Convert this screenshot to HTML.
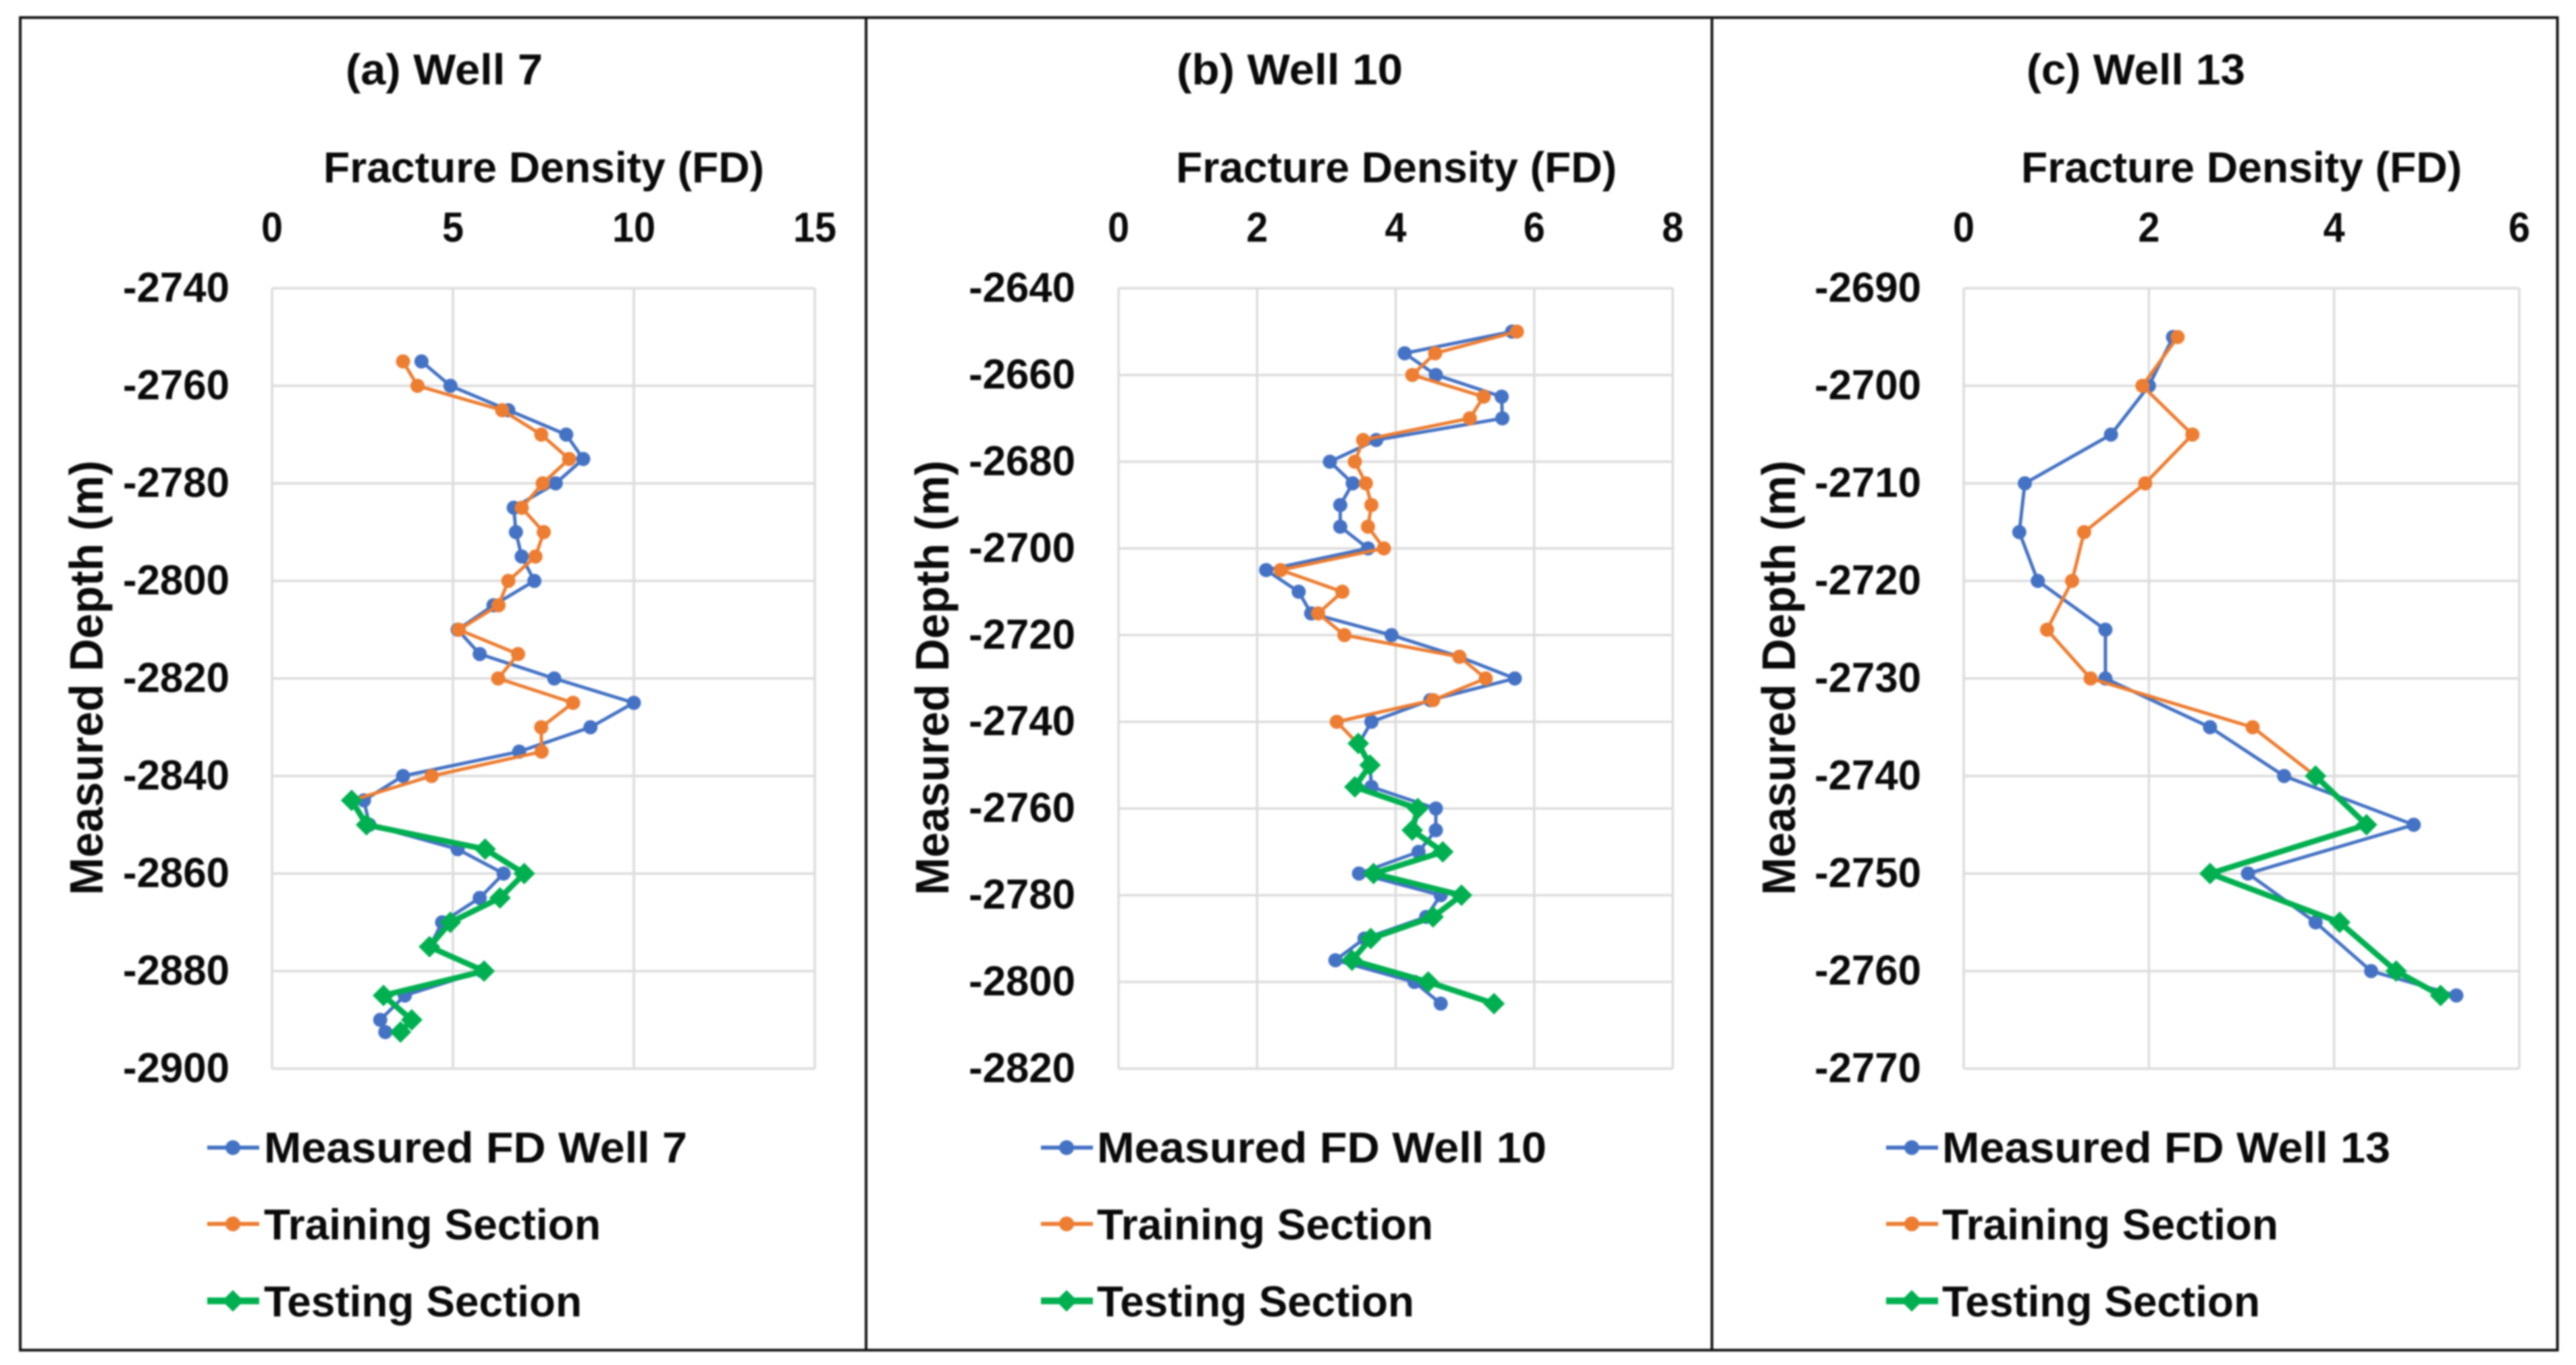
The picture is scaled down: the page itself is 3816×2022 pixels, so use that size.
<!DOCTYPE html>
<html lang="en">
<head>
<meta charset="utf-8">
<title>Fracture Density by Well</title>
<style>
html,body{margin:0;padding:0;background:#fff;width:3816px;height:2022px;overflow:hidden}
svg{display:block;position:absolute;left:0;top:0}
text{font-family:"Liberation Sans",sans-serif;font-weight:700;fill:#0a0a0a}
#art{filter:blur(1.2px)}
</style>
</head>
<body>
<svg id="chart" xmlns="http://www.w3.org/2000/svg" width="3816" height="2022" viewBox="0 0 3816 2022">
<rect width="3816" height="2022" fill="#ffffff"></rect>
<g id="art"></g>
</svg>
<script>
// ---------- Well 7 data ----------
const well7XTicks = [0, 5, 10, 15];
const well7YTicks = [-2740, -2760, -2780, -2800, -2820, -2840, -2860, -2880, -2900];
const well7MeasuredDepth = [-2755, -2760, -2765, -2770, -2775, -2780, -2785, -2790, -2795, -2800, -2805, -2810, -2815, -2820, -2825, -2830, -2835, -2840, -2845, -2850, -2855, -2860, -2865, -2870, -2875, -2880, -2885, -2890, -2892.5];
const well7Measured = [4.13, 4.93, 6.53, 8.13, 8.6, 7.84, 6.68, 6.74, 6.9, 7.25, 6.12, 5.13, 5.74, 7.8, 10.0, 8.8, 6.83, 3.62, 2.54, 2.69, 5.13, 6.4, 5.74, 4.7, 4.36, 5.8, 3.67, 2.99, 3.13];
const well7TrainingDepth = [-2755, -2760, -2765, -2770, -2775, -2780, -2785, -2790, -2795, -2800, -2805, -2810, -2815, -2820, -2825, -2830, -2835, -2840, -2845];
const well7Training = [3.62, 4.02, 6.36, 7.44, 8.21, 7.48, 6.9, 7.51, 7.28, 6.53, 6.26, 5.16, 6.8, 6.25, 8.32, 7.44, 7.45, 4.41, 2.2];
const well7TestingDepth = [-2845, -2850, -2855, -2860, -2865, -2870, -2875, -2880, -2885, -2890, -2892.5];
const well7Testing = [2.2, 2.61, 5.89, 6.97, 6.3, 4.93, 4.35, 5.86, 3.08, 3.86, 3.55];

// ---------- Well 10 data ----------
const well10XTicks = [0, 2, 4, 6, 8];
const well10YTicks = [-2640, -2660, -2680, -2700, -2720, -2740, -2760, -2780, -2800, -2820];
const well10MeasuredDepth = [-2650, -2655, -2660, -2665, -2670, -2675, -2680, -2685, -2690, -2695, -2700, -2705, -2710, -2715, -2720, -2725, -2730, -2735, -2740, -2745, -2750, -2755, -2760, -2765, -2770, -2775, -2780, -2785, -2790, -2795, -2800, -2805];
const well10Measured = [5.68, 4.13, 4.58, 5.53, 5.54, 3.72, 3.05, 3.38, 3.2, 3.2, 3.6, 2.13, 2.6, 2.78, 3.94, 4.92, 5.72, 4.5, 3.65, 3.47, 3.63, 3.65, 4.58, 4.58, 4.33, 3.47, 4.65, 4.44, 3.55, 3.13, 4.27, 4.65];
const well10TrainingDepth = [-2650, -2655, -2660, -2665, -2670, -2675, -2680, -2685, -2690, -2695, -2700, -2705, -2710, -2715, -2720, -2725, -2730, -2735, -2740, -2745];
const well10Training = [5.75, 4.57, 4.24, 5.27, 5.07, 3.53, 3.41, 3.57, 3.65, 3.6, 3.83, 2.34, 3.23, 2.88, 3.26, 4.92, 5.3, 4.54, 3.15, 3.45];
const well10TestingDepth = [-2745, -2750, -2755, -2760, -2765, -2770, -2775, -2780, -2785, -2790, -2795, -2800, -2805];
const well10Testing = [3.46, 3.63, 3.41, 4.32, 4.24, 4.68, 3.68, 4.95, 4.54, 3.64, 3.37, 4.47, 5.42];

// ---------- Well 13 data ----------
const well13XTicks = [0, 2, 4, 6];
const well13YTicks = [-2690, -2700, -2710, -2720, -2730, -2740, -2750, -2760, -2770];
const well13MeasuredDepth = [-2695, -2700, -2705, -2710, -2715, -2720, -2725, -2730, -2735, -2740, -2745, -2750, -2755, -2760, -2762.5];
const well13Measured = [2.26, 2.0, 1.59, 0.66, 0.6, 0.8, 1.53, 1.53, 2.66, 3.46, 4.86, 3.07, 3.8, 4.4, 5.32];
const well13TrainingDepth = [-2695, -2700, -2705, -2710, -2715, -2720, -2725, -2730, -2735, -2740];
const well13Training = [2.31, 1.93, 2.47, 1.96, 1.3, 1.17, 0.9, 1.37, 3.12, 3.8];
const well13TestingDepth = [-2740, -2745, -2750, -2755, -2760, -2762.5];
const well13Testing = [3.8, 4.35, 2.66, 4.06, 4.67, 5.15];

// ---------- Text ----------
const xAxisTitle = "Fracture Density (FD)";
const yAxisTitle = "Measured Depth (m)";
const trainingLabel = "Training Section";
const testingLabel = "Testing Section";

// ---------- Layout (pixels) ----------
const panels = [
  {key:"well-7", title:"(a) Well 7", legend:"Measured FD Well 7",
   xTicks:well7XTicks, yTicks:well7YTicks,
   mDepth:well7MeasuredDepth, m:well7Measured, trDepth:well7TrainingDepth, tr:well7Training, teDepth:well7TestingDepth, te:well7Testing,
   left:403, right:1207, titleX:512, titleW:292, fdX:479, yLabelRight:340, yTitleX:152, legLine:307, legText:391, legW:[627,499,471]},
  {key:"well-10", title:"(b) Well 10", legend:"Measured FD Well 10",
   xTicks:well10XTicks, yTicks:well10YTicks,
   mDepth:well10MeasuredDepth, m:well10Measured, trDepth:well10TrainingDepth, tr:well10Training, teDepth:well10TestingDepth, te:well10Testing,
   left:1657, right:2478, titleX:1743, titleW:335, fdX:1742, yLabelRight:1593, yTitleX:1405, legLine:1542, legText:1625, legW:[666,498,470]},
  {key:"well-13", title:"(c) Well 13", legend:"Measured FD Well 13",
   xTicks:well13XTicks, yTicks:well13YTicks,
   mDepth:well13MeasuredDepth, m:well13Measured, trDepth:well13TrainingDepth, tr:well13Training, teDepth:well13TestingDepth, te:well13Testing,
   left:2909, right:3732, titleX:3002, titleW:324, fdX:2994, yLabelRight:2846, yTitleX:2659, legLine:2794, legText:2877, legW:[664,498,471]}
];
const plotTop = 427, plotBottom = 1583;
const BLUE = "#4472C4", ORANGE = "#ED7D31", GREEN = "#00B050", GRID = "#dcdcdc", FRAME = "#141414";

const NS = "http://www.w3.org/2000/svg";
const art = document.getElementById("art");

function make(tag, attrs, parent) {
  const el = document.createElementNS(NS, tag);
  for (const k in attrs) el.setAttribute(k, attrs[k]);
  (parent || art).appendChild(el);
  return el;
}

function xScale(p, v) {
  const ticks = p.xTicks, lo = ticks[0], hi = ticks[ticks.length - 1];
  return p.left + (v - lo) / (hi - lo) * (p.right - p.left);
}
function yScale(p, v) {
  const ticks = p.yTicks, hi = ticks[0], lo = ticks[ticks.length - 1];
  return plotTop + (hi - v) / (hi - lo) * (plotBottom - plotTop);
}

function drawLine(parent, p, xs, ys, color, width, name) {
  const pts = xs.map((v, i) => xScale(p, v).toFixed(1) + "," + yScale(p, ys[i]).toFixed(1)).join(" ");
  const line = make("polyline", {points: pts, fill: "none", stroke: color, "stroke-width": width, "stroke-linejoin": "round"}, parent);
  
  
}
function drawCircle(parent, cx, cy, r, color, name) {
  const c = make("circle", {cx: cx, cy: cy, r: r, fill: color}, parent);
  
  
}
function drawDiamond(parent, cx, cy, r, color, name) {
  const pts = [[cx, cy - r], [cx + r, cy], [cx, cy + r], [cx - r, cy]].map(q => q[0].toFixed(1) + "," + q[1].toFixed(1)).join(" ");
  const d = make("polygon", {points: pts, fill: color}, parent);
  
  
}

function drawPanel(p) {
  const g = make("g", {});
  
  

  // Title
  const title = make("text", {x: p.titleX, y: 125, "font-size": 64, textLength: p.titleW, lengthAdjust: "spacingAndGlyphs"}, g);
  
  
  title.textContent = p.title;

  // X axis title
  const fd = make("text", {x: p.fdX, y: 270, "font-size": 64, textLength: 653, lengthAdjust: "spacingAndGlyphs"}, g);
  
  
  fd.textContent = xAxisTitle;

  // Y axis title
  const yMid = 1004;
  const yt = make("text", {x: p.yTitleX, y: yMid, "font-size": 70, "text-anchor": "middle", transform: "rotate(-90 " + p.yTitleX + " " + yMid + ")", textLength: 644, lengthAdjust: "spacingAndGlyphs"}, g);
  
  
  yt.textContent = yAxisTitle;

  // Vertical grid + x ticks
  p.xTicks.forEach(v => {
    const x = xScale(p, v);
    const gl = make("line", {x1: x, x2: x, y1: plotTop, y2: plotBottom, stroke: GRID, "stroke-width": 3.5}, g);
    
    
    const label = String(v);
    const t = make("text", {x: x, y: 358, "font-size": 62, "text-anchor": "middle", textLength: 32 * label.length, lengthAdjust: "spacingAndGlyphs"}, g);
    
    
    t.textContent = label;
  });

  // Horizontal grid + y ticks
  p.yTicks.forEach(v => {
    const y = yScale(p, v);
    const gl = make("line", {x1: p.left, x2: p.right, y1: y, y2: y, stroke: GRID, "stroke-width": 3.5}, g);
    
    
    const t = make("text", {x: p.yLabelRight - 158, y: y + 20, "font-size": 62, textLength: 158, lengthAdjust: "spacingAndGlyphs"}, g);
    
    
    t.textContent = String(v);
  });

  // Series
  const sm = make("g", {}, g);
  
  
  drawLine(sm, p, p.m, p.mDepth, BLUE, 5, 'measured');
  p.m.forEach((v, i) => drawCircle(sm, xScale(p, v), yScale(p, p.mDepth[i]), 10.5, BLUE, 'measured'));

  const st = make("g", {}, g);
  
  
  drawLine(st, p, p.tr, p.trDepth, ORANGE, 5, 'training');
  p.tr.forEach((v, i) => drawCircle(st, xScale(p, v), yScale(p, p.trDepth[i]), 10.5, ORANGE, 'training'));

  const se = make("g", {}, g);
  
  
  drawLine(se, p, p.te, p.teDepth, GREEN, 8.5, 'testing');
  p.te.forEach((v, i) => drawDiamond(se, xScale(p, v), yScale(p, p.teDepth[i]), 16, GREEN, 'testing'));

  // Legend
  const rows = [
    {label: p.legend, color: BLUE, w: 6, y: 1700, base: 1722, kind: "circle", name: 'legend-measured'},
    {label: trainingLabel, color: ORANGE, w: 6, y: 1813, base: 1836, kind: "circle", name: 'legend-training'},
    {label: testingLabel, color: GREEN, w: 10, y: 1927, base: 1950, kind: "diamond", name: 'legend-testing'}
  ];
  rows.forEach((r, i) => {
    const lg = make("g", {}, g);
    
    
    const l = make("line", {x1: p.legLine, x2: p.legLine + 77, y1: r.y, y2: r.y, stroke: r.color, "stroke-width": r.w}, lg);
    
    
    if (r.kind === "circle") {
      drawCircle(lg, p.legLine + 38, r.y, 11, r.color, r.name);
    } else {
      drawDiamond(lg, p.legLine + 38, r.y, 16, r.color, r.name);
    }
    const t = make("text", {x: p.legText, y: r.base, "font-size": 64, textLength: p.legW[i], lengthAdjust: "spacingAndGlyphs"}, lg);
    
    
    t.textContent = r.label;
  });
}

panels.forEach(drawPanel);

// Outer frame and panel dividers
const outer = make("rect", {x: 30, y: 26, width: 3758.5, height: 1974, fill: "none", stroke: FRAME, "stroke-width": 4});


const dividerA = make("line", {x1: 1283, x2: 1283, y1: 26, y2: 2000, stroke: FRAME, "stroke-width": 4});


const dividerB = make("line", {x1: 2536, x2: 2536, y1: 26, y2: 2000, stroke: FRAME, "stroke-width": 4});


</script>
</body>
</html>
